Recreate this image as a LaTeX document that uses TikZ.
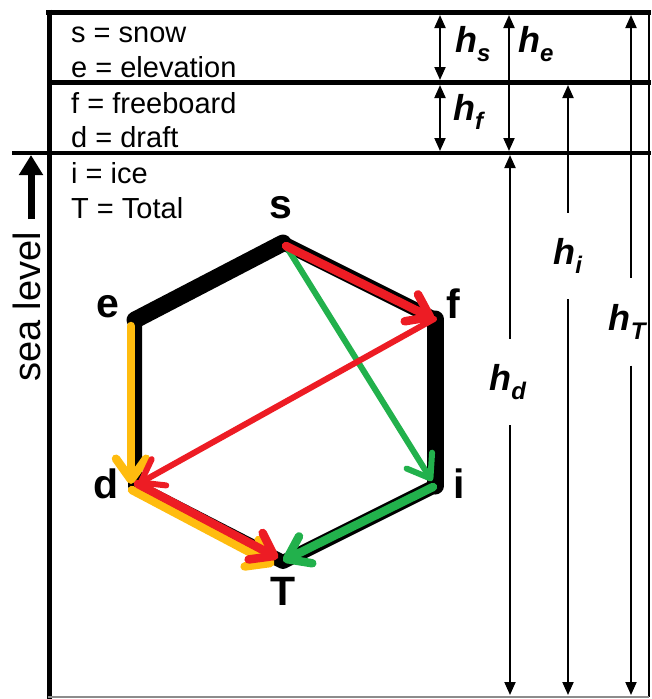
\documentclass[tikz,border=0pt]{standalone}
\usepackage{fontspec}
\setmainfont{Liberation Sans}
\usetikzlibrary{arrows.meta, positioning, calc}
\definecolor{iceRed}{RGB}{237,28,36}
\definecolor{iceGreen}{RGB}{34,177,76}
\definecolor{iceYellow}{RGB}{255,188,15}
\newcommand{\hlab}[1]{\textbf{\textit{h}}\raisebox{-9pt}{\fontsize{24}{24}\selectfont\textbf{\textit{#1}}}}

\begin{document}
\begin{tikzpicture}[x=1pt, y=-1pt,
        frame/.style={line width=5pt},
        thinframe/.style={line width=1.5pt},
        dimboth/.style={line width=2pt, {Triangle[length=13pt,width=11pt]}-{Triangle[length=13pt,width=11pt]}},
        dimup/.style={line width=2pt, {Triangle[length=13pt,width=11pt]}-},
        dimdown/.style={line width=2pt, -{Triangle[length=13pt,width=11pt]}},
        legend/.style={anchor=base west, inner sep=0pt, font=\fontsize{29}{35}\selectfont},
        hname/.style={inner sep=0pt, font=\fontsize{36}{40}\selectfont},
        vname/.style={anchor=base, inner sep=0pt, font=\fontsize{41}{44}\selectfont\bfseries},
        hexedge/.style={line width=14pt, line cap=round, line join=round},
        bigedge/.style={line width=17pt, line cap=round},
        route/.style={line width=8.5pt, line cap=round, -{Straight Barb[round, length=21pt, width=30pt]}},
        thinroute/.style={route, line width=6pt}
    ]
    \useasboundingbox (0,0) rectangle (651,699);

    % Frame corners and levels
    \coordinate (topL) at (48,12);
    \coordinate (topR) at (651,12);
    \coordinate (midL) at (48,82);
    \coordinate (midR) at (651,82);
    \coordinate (seaL) at (12,153);
    \coordinate (seaR) at (651,153);
    \coordinate (botL) at (49,699);
    \coordinate (botR) at (649,697);

    \draw[frame] (49,9.5) -- (botL);
    \draw[frame] (46,12) -- (topR);
    \draw[frame] (midL) -- (midR);
    \draw[line width=4pt] (seaL) -- (seaR);
    \draw[thinframe] (649,12) -- (botR);
    \draw[thinframe, black!45] (48,697) -- (botR);

    % Legend
    \node[legend] (snow) at (71,42) {s = snow};
    \node[legend] (elev) at (71,77) {e = elevation};
    \node[legend] (free) at (71,113) {f = freeboard};
    \node[legend] (draft) at (71,147) {d = draft};
    \node[legend] (ice) at (71,183) {i = ice};
    \node[legend] (total) at (71,218) {T = Total};

    % Sea level marker
    \coordinate (seaTail) at (31,219);
    \coordinate (seaTip) at (31,155);
    \draw[line width=7pt, -{Triangle[length=20pt,width=23pt]}] (seaTail) -- (seaTip);
    \node[rotate=90, inner sep=0pt, font=\fontsize{38}{40}\selectfont] (sealevel) at (27,307) {sea level};

    % Thickness dimensions
    \coordinate (hsTop) at (440,15);
    \coordinate (hsBot) at (440,80);
    \coordinate (hfTop) at (440,85);
    \coordinate (hfBot) at (440,151);
    \coordinate (heTop) at (509,15);
    \coordinate (heBot) at (509,151);
    \draw[dimboth] (hsTop) -- (hsBot);
    \draw[dimboth] (hfTop) -- (hfBot);
    \draw[dimboth] (heTop) -- (heBot);
    \node[hname, anchor=base west] (hs) at (455,52) {\hlab{s}};
    \node[hname, anchor=base west] (he) at (518,52) {\hlab{e}};
    \node[hname, anchor=base west] (hf) at (453,120) {\hlab{f}};

    \coordinate (hdTop) at (510,155);
    \coordinate (hdBot) at (510,695);
    \coordinate (hiTop) at (568,85);
    \coordinate (hiBot) at (568,695);
    \coordinate (hTTop) at (631,15);
    \coordinate (hTBot) at (631,695);
    \node[hname, minimum height=86pt] (hd) at (508,382) {\hlab{d}};
    \node[hname, minimum height=86pt] (hi) at (568,256) {\hlab{i}};
    \node[hname, minimum height=87pt] (hT) at (628,322) {\hlab{T}};
    \draw[dimup] (hdTop) -- (hdTop |- hd.north);
    \draw[dimdown] (hdBot |- hd.south) -- (hdBot);
    \draw[dimup] (hiTop) -- (hi.north);
    \draw[dimdown] (hi.south) -- (hiBot);
    \draw[dimup] (hTTop) -- (hTTop |- hT.north);
    \draw[dimdown] (hTBot |- hT.south) -- (hTBot);

    % Hexagon
    \coordinate (s) at (283,243);
    \coordinate (f) at (435,319);
    \coordinate (i) at (435,486);
    \coordinate (T) at (283,562);
    \coordinate (d) at (135,486);
    \coordinate (e) at (135,320);
    \draw[hexedge] (e) -- (d) -- (T) -- (i);
    \draw[hexedge] (s) -- (f);
    \draw[bigedge] (s) -- (e);
    \draw[bigedge] (f) -- (i);

    \node[vname] (sLab) at (281,218) {s};
    \node[vname] (fLab) at (453,318) {f};
    \node[vname] (iLab) at (459,498) {i};
    \node[vname] (TLab) at (283,605) {T};
    \node[vname] (dLab) at (106,498) {d};
    \node[vname] (eLab) at (108,317) {e};

    % Routes between the heights
    \coordinate (sR) at (286,246);
    \coordinate (fR) at (434,319);
    \coordinate (iR) at (432,481);
    \coordinate (dR) at (138,484);
    \coordinate (eY) at (131,326);
    \coordinate (dY) at (131,484);
    \coordinate (dY2) at (132,490);
    \coordinate (TY) at (274,565);
    \coordinate (TR) at (278,558);
    \coordinate (iG) at (433,487);
    \coordinate (TG) at (283,561);
    \draw[route, iceYellow] (eY) -- (dY);
    \draw[route, iceYellow] (dY2) -- (TY);
    \draw[route, iceRed] (dR) -- (TR);
    \draw[thinroute, iceGreen] (sR) -- (iR);
    \draw[thinroute, iceRed] (fR) -- (dR);
    \draw[route, iceRed] (sR) -- (fR);
    \draw[route, iceGreen] (iG) -- (TG);

\end{tikzpicture}
\end{document}
